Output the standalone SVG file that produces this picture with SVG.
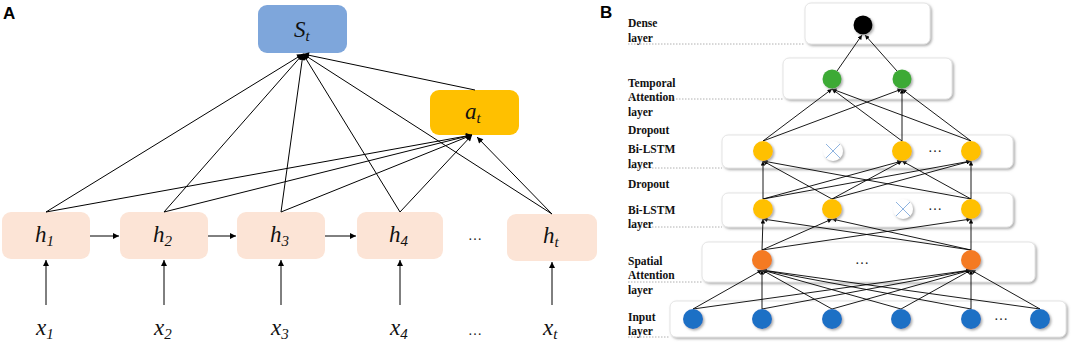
<svg xmlns="http://www.w3.org/2000/svg" width="1072" height="345" viewBox="0 0 1072 345">
<style>
.pl{font-family:"Liberation Sans",Arial,sans-serif;font-weight:bold;font-size:17px;fill:#000}
.m{font-family:'Liberation Serif','Times New Roman','DejaVu Serif',serif;font-style:italic;font-size:23px;fill:#111}
.sb{font-size:15px}
.ln{stroke:#000;stroke-width:1;fill:none}
.lb{stroke:#000;stroke-width:0.9;fill:none}
.lab{font-family:'Liberation Serif','Times New Roman','DejaVu Serif',serif;font-weight:bold;font-size:11.5px;fill:#111}
.box{fill:#fff;stroke:#e4e4e4;stroke-width:1}
.dot{stroke:#b0b0b0;stroke-width:1;stroke-dasharray:1.5 1.5}
.ell{font-family:'Liberation Serif','Times New Roman',serif;font-size:14px;fill:#222}
</style>
<defs>
<marker id="ar" viewBox="0 0 10 10" refX="10" refY="5" markerWidth="7" markerHeight="6" orient="auto" markerUnits="userSpaceOnUse"><path d="M0,0 L10,5 L0,10 z" fill="#000"/></marker>
<marker id="as" viewBox="0 0 10 10" refX="10" refY="5" markerWidth="5" markerHeight="4.5" orient="auto" markerUnits="userSpaceOnUse"><path d="M0,0 L10,5 L0,10 z" fill="#000"/></marker>
<filter id="sh" x="-20%" y="-20%" width="150%" height="150%"><feDropShadow dx="1.5" dy="1.5" stdDeviation="0.8" flood-color="#777" flood-opacity="0.6"/></filter>
</defs>

<!-- Panel A -->
<text class="pl" x="3" y="19">A</text>

<g id="St"><rect x="258" y="5" width="89" height="48" rx="9" fill="#7EA6DB"/><text class="m" x="294" y="37">S<tspan class="sb" dy="4">t</tspan></text></g>
<g id="at"><rect x="430" y="90" width="89" height="45" rx="9" fill="#FFC000"/><text class="m" x="465" y="119">a<tspan class="sb" dy="4">t</tspan></text></g>
<g id="h1"><rect x="2" y="212" width="88" height="47" rx="9" fill="#FCE4D6"/><text class="m" x="35" y="242">h<tspan class="sb" dy="4">1</tspan></text></g>
<g id="h2"><rect x="120" y="212" width="88" height="47" rx="9" fill="#FCE4D6"/><text class="m" x="153" y="242">h<tspan class="sb" dy="4">2</tspan></text></g>
<g id="h3"><rect x="237" y="212" width="88" height="47" rx="9" fill="#FCE4D6"/><text class="m" x="270" y="242">h<tspan class="sb" dy="4">3</tspan></text></g>
<g id="h4"><rect x="357" y="212" width="86" height="47" rx="9" fill="#FCE4D6"/><text class="m" x="389" y="242">h<tspan class="sb" dy="4">4</tspan></text></g>
<g id="ht"><rect x="507" y="214" width="90" height="47" rx="9" fill="#FCE4D6"/><text class="m" x="543" y="243">h<tspan class="sb" dy="4">t</tspan></text></g>
<text class="ell" x="475" y="240" text-anchor="middle">…</text>

<g id="x1"><text class="m" x="36" y="335">x<tspan class="sb" dy="4">1</tspan></text></g>
<g id="x2"><text class="m" x="154" y="335">x<tspan class="sb" dy="4">2</tspan></text></g>
<g id="x3"><text class="m" x="271" y="335">x<tspan class="sb" dy="4">3</tspan></text></g>
<g id="x4"><text class="m" x="390" y="335">x<tspan class="sb" dy="4">4</tspan></text></g>
<g id="xt"><text class="m" x="543" y="335">x<tspan class="sb" dy="4">t</tspan></text></g>
<text class="ell" x="475" y="335" text-anchor="middle">…</text>

<g id="connectorsA">
<line class="ln" x1="90" y1="236" x2="119" y2="236" marker-end="url(#ar)"/>
<line class="ln" x1="208" y1="236" x2="236" y2="236" marker-end="url(#ar)"/>
<line class="ln" x1="325" y1="236" x2="356" y2="236" marker-end="url(#ar)"/>
<line class="ln" x1="46" y1="305" x2="46" y2="260" marker-end="url(#ar)"/>
<line class="ln" x1="164" y1="305" x2="164" y2="260" marker-end="url(#ar)"/>
<line class="ln" x1="281" y1="305" x2="281" y2="260" marker-end="url(#ar)"/>
<line class="ln" x1="400" y1="305" x2="400" y2="260" marker-end="url(#ar)"/>
<line class="ln" x1="552" y1="305" x2="552" y2="262" marker-end="url(#ar)"/>
<line class="ln" x1="46" y1="212" x2="303" y2="54" marker-end="url(#ar)"/>
<line class="ln" x1="164" y1="212" x2="303" y2="54" marker-end="url(#ar)"/>
<line class="ln" x1="281" y1="212" x2="303" y2="54" marker-end="url(#ar)"/>
<line class="ln" x1="400" y1="212" x2="303" y2="54" marker-end="url(#ar)"/>
<line class="ln" x1="552" y1="214" x2="303" y2="54" marker-end="url(#ar)"/>
<line class="ln" x1="475" y1="90" x2="303" y2="54" marker-end="url(#ar)"/>
<line class="ln" x1="46" y1="212" x2="472" y2="135" marker-end="url(#ar)"/>
<line class="ln" x1="164" y1="212" x2="472" y2="135" marker-end="url(#ar)"/>
<line class="ln" x1="281" y1="212" x2="472" y2="135" marker-end="url(#ar)"/>
<line class="ln" x1="400" y1="212" x2="472" y2="135" marker-end="url(#ar)"/>
<line class="ln" x1="552" y1="214" x2="477" y2="137" marker-end="url(#ar)"/>
</g>

<!-- Panel B -->
<text class="pl" x="600" y="18">B</text>

<g id="layerboxes">
<rect class="box" x="805" y="3" width="125" height="41" rx="6" filter="url(#sh)"/>
<rect class="box" x="783" y="58" width="169" height="41" rx="6" filter="url(#sh)"/>
<rect class="box" x="722" y="135" width="291" height="33" rx="6" filter="url(#sh)"/>
<rect class="box" x="722" y="193" width="291" height="34" rx="6" filter="url(#sh)"/>
<rect class="box" x="702" y="242" width="333" height="40" rx="6" filter="url(#sh)"/>
<rect class="box" x="670" y="301" width="396" height="36" rx="6" filter="url(#sh)"/>
<line class="dot" x1="628" y1="44" x2="805" y2="44"/>
<line class="dot" x1="628" y1="99" x2="783" y2="99"/>
<line class="dot" x1="628" y1="168" x2="722" y2="168"/>
<line class="dot" x1="628" y1="227" x2="722" y2="227"/>
<line class="dot" x1="628" y1="282" x2="702" y2="282"/>
<line class="dot" x1="628" y1="337" x2="670" y2="337"/>
</g>

<g id="labels">
<text class="lab" x="628" y="27">Dense</text>
<text class="lab" x="628" y="42">layer</text>
<text class="lab" x="628" y="87">Temporal</text>
<text class="lab" x="628" y="101">Attention</text>
<text class="lab" x="628" y="116">layer</text>
<text class="lab" x="628" y="134">Dropout</text>
<text class="lab" x="628" y="153">Bi-LSTM</text>
<text class="lab" x="628" y="168">layer</text>
<text class="lab" x="628" y="188">Dropout</text>
<text class="lab" x="628" y="214">Bi-LSTM</text>
<text class="lab" x="628" y="228">layer</text>
<text class="lab" x="628" y="265">Spatial</text>
<text class="lab" x="628" y="279">Attention</text>
<text class="lab" x="628" y="294">layer</text>
<text class="lab" x="628" y="321">Input</text>
<text class="lab" x="628" y="335">layer</text>
</g>

<g id="connectorsB">
<line class="lb" x1="693" y1="309" x2="762" y2="270" marker-end="url(#as)"/>
<line class="lb" x1="762" y1="309" x2="762" y2="270" marker-end="url(#as)"/>
<line class="lb" x1="832" y1="309" x2="762" y2="270" marker-end="url(#as)"/>
<line class="lb" x1="901" y1="309" x2="762" y2="270" marker-end="url(#as)"/>
<line class="lb" x1="971" y1="309" x2="762" y2="270" marker-end="url(#as)"/>
<line class="lb" x1="1040" y1="309" x2="762" y2="270" marker-end="url(#as)"/>
<line class="lb" x1="693" y1="309" x2="971" y2="270" marker-end="url(#as)"/>
<line class="lb" x1="762" y1="309" x2="971" y2="270" marker-end="url(#as)"/>
<line class="lb" x1="832" y1="309" x2="971" y2="270" marker-end="url(#as)"/>
<line class="lb" x1="901" y1="309" x2="971" y2="270" marker-end="url(#as)"/>
<line class="lb" x1="971" y1="309" x2="971" y2="270" marker-end="url(#as)"/>
<line class="lb" x1="1040" y1="309" x2="971" y2="270" marker-end="url(#as)"/>
<line class="lb" x1="762" y1="250" x2="763" y2="219" marker-end="url(#as)"/>
<line class="lb" x1="762" y1="250" x2="832" y2="219" marker-end="url(#as)"/>
<line class="lb" x1="762" y1="250" x2="971" y2="219" marker-end="url(#as)"/>
<line class="lb" x1="971" y1="250" x2="763" y2="219" marker-end="url(#as)"/>
<line class="lb" x1="971" y1="250" x2="832" y2="219" marker-end="url(#as)"/>
<line class="lb" x1="971" y1="250" x2="971" y2="219" marker-end="url(#as)"/>
<line class="lb" x1="763" y1="199" x2="763" y2="161" marker-end="url(#as)"/>
<line class="lb" x1="763" y1="199" x2="902" y2="161" marker-end="url(#as)"/>
<line class="lb" x1="763" y1="199" x2="971" y2="161" marker-end="url(#as)"/>
<line class="lb" x1="832" y1="199" x2="763" y2="161" marker-end="url(#as)"/>
<line class="lb" x1="832" y1="199" x2="902" y2="161" marker-end="url(#as)"/>
<line class="lb" x1="832" y1="199" x2="971" y2="161" marker-end="url(#as)"/>
<line class="lb" x1="971" y1="199" x2="763" y2="161" marker-end="url(#as)"/>
<line class="lb" x1="971" y1="199" x2="902" y2="161" marker-end="url(#as)"/>
<line class="lb" x1="971" y1="199" x2="971" y2="161" marker-end="url(#as)"/>
<line class="lb" x1="763" y1="141" x2="832" y2="89" marker-end="url(#as)"/>
<line class="lb" x1="902" y1="141" x2="832" y2="89" marker-end="url(#as)"/>
<line class="lb" x1="971" y1="141" x2="832" y2="89" marker-end="url(#as)"/>
<line class="lb" x1="763" y1="141" x2="902" y2="89" marker-end="url(#as)"/>
<line class="lb" x1="902" y1="141" x2="902" y2="89" marker-end="url(#as)"/>
<line class="lb" x1="971" y1="141" x2="902" y2="89" marker-end="url(#as)"/>
<line class="lb" x1="837" y1="71" x2="862" y2="35" marker-end="url(#as)"/>
<line class="lb" x1="897" y1="71" x2="865" y2="35" marker-end="url(#as)"/>
</g>

<g id="dense"><circle cx="863" cy="25" r="9.5" fill="#000" filter="url(#sh)"/></g>
<g id="temporal"><circle cx="832" cy="79" r="9.5" fill="#3DAA35" filter="url(#sh)"/><circle cx="902" cy="79" r="9.5" fill="#3DAA35" filter="url(#sh)"/></g>
<g id="bilstm2">
<circle cx="763" cy="151" r="10" fill="#FFC000" filter="url(#sh)"/>
<g filter="url(#sh)"><circle cx="833" cy="151" r="10" fill="#fff"/><path d="M826,144 L840,158 M840,144 L826,158" stroke="#8FB4E0" stroke-width="1"/></g>
<circle cx="902" cy="151" r="10" fill="#FFC000" filter="url(#sh)"/>
<text class="ell" x="935" y="152" text-anchor="middle">…</text>
<circle cx="971" cy="151" r="10" fill="#FFC000" filter="url(#sh)"/>
</g>
<g id="bilstm1">
<circle cx="763" cy="209" r="10" fill="#FFC000" filter="url(#sh)"/>
<circle cx="832" cy="209" r="10" fill="#FFC000" filter="url(#sh)"/>
<g filter="url(#sh)"><circle cx="903" cy="209" r="10" fill="#fff"/><path d="M896,202 L910,216 M910,202 L896,216" stroke="#8FB4E0" stroke-width="1"/></g>
<text class="ell" x="935" y="210" text-anchor="middle">…</text>
<circle cx="971" cy="209" r="10" fill="#FFC000" filter="url(#sh)"/>
</g>
<g id="spatial">
<circle cx="762" cy="260" r="10" fill="#F47A20" filter="url(#sh)"/>
<text class="ell" x="862" y="264" text-anchor="middle">…</text>
<circle cx="971" cy="260" r="10" fill="#F47A20" filter="url(#sh)"/>
</g>
<g id="input">
<circle cx="693" cy="319" r="10" fill="#1F6FC5" filter="url(#sh)"/>
<circle cx="762" cy="319" r="10" fill="#1F6FC5" filter="url(#sh)"/>
<circle cx="832" cy="319" r="10" fill="#1F6FC5" filter="url(#sh)"/>
<circle cx="901" cy="319" r="10" fill="#1F6FC5" filter="url(#sh)"/>
<circle cx="971" cy="319" r="10" fill="#1F6FC5" filter="url(#sh)"/>
<text class="ell" x="1001" y="320" text-anchor="middle">…</text>
<circle cx="1040" cy="319" r="10" fill="#1F6FC5" filter="url(#sh)"/>
</g>
</svg>
